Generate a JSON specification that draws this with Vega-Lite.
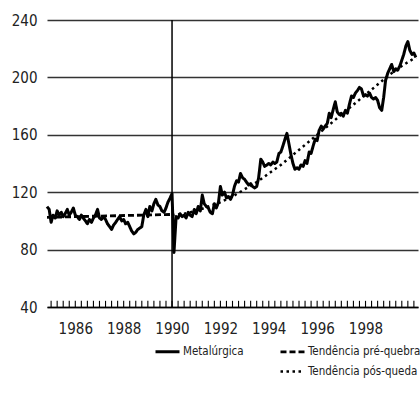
{
  "$schema": "https://vega.github.io/schema/vega-lite/v6.json",
  "width": 371,
  "height": 287,
  "autosize": "none",
  "padding": {"left": 47, "top": 20, "right": 2, "bottom": 94},
  "background": "white",
  "config": {"view": {"stroke": null}},
  "datasets": {
    "series": [
      {"s":"Metalúrgica","t":1984.83,"v":110},{"s":"Metalúrgica","t":1984.92,"v":108},{"s":"Metalúrgica","t":1985.0,"v":99},{"s":"Metalúrgica","t":1985.08,"v":104},{"s":"Metalúrgica","t":1985.17,"v":102},{"s":"Metalúrgica","t":1985.25,"v":107},{"s":"Metalúrgica","t":1985.33,"v":104},{"s":"Metalúrgica","t":1985.42,"v":106},{"s":"Metalúrgica","t":1985.5,"v":103},{"s":"Metalúrgica","t":1985.58,"v":105},{"s":"Metalúrgica","t":1985.67,"v":108},{"s":"Metalúrgica","t":1985.75,"v":104},{"s":"Metalúrgica","t":1985.83,"v":106},{"s":"Metalúrgica","t":1985.92,"v":109},
      {"s":"Metalúrgica","t":1986.0,"v":104},{"s":"Metalúrgica","t":1986.08,"v":103},{"s":"Metalúrgica","t":1986.17,"v":101},{"s":"Metalúrgica","t":1986.25,"v":104},{"s":"Metalúrgica","t":1986.33,"v":102},{"s":"Metalúrgica","t":1986.42,"v":100},{"s":"Metalúrgica","t":1986.5,"v":98},{"s":"Metalúrgica","t":1986.58,"v":101},{"s":"Metalúrgica","t":1986.67,"v":99},{"s":"Metalúrgica","t":1986.75,"v":102},{"s":"Metalúrgica","t":1986.83,"v":104},{"s":"Metalúrgica","t":1986.92,"v":108},
      {"s":"Metalúrgica","t":1987.0,"v":102},{"s":"Metalúrgica","t":1987.08,"v":101},{"s":"Metalúrgica","t":1987.17,"v":103},{"s":"Metalúrgica","t":1987.25,"v":101},{"s":"Metalúrgica","t":1987.33,"v":98},{"s":"Metalúrgica","t":1987.42,"v":96},{"s":"Metalúrgica","t":1987.5,"v":94},{"s":"Metalúrgica","t":1987.58,"v":97},{"s":"Metalúrgica","t":1987.67,"v":99},{"s":"Metalúrgica","t":1987.75,"v":101},{"s":"Metalúrgica","t":1987.83,"v":103},{"s":"Metalúrgica","t":1987.92,"v":100},
      {"s":"Metalúrgica","t":1988.0,"v":101},{"s":"Metalúrgica","t":1988.08,"v":98},{"s":"Metalúrgica","t":1988.17,"v":99},{"s":"Metalúrgica","t":1988.25,"v":96},{"s":"Metalúrgica","t":1988.33,"v":93},{"s":"Metalúrgica","t":1988.42,"v":91},{"s":"Metalúrgica","t":1988.5,"v":92},{"s":"Metalúrgica","t":1988.58,"v":94},{"s":"Metalúrgica","t":1988.67,"v":95},{"s":"Metalúrgica","t":1988.75,"v":96},{"s":"Metalúrgica","t":1988.83,"v":104},{"s":"Metalúrgica","t":1988.92,"v":108},
      {"s":"Metalúrgica","t":1989.0,"v":103},{"s":"Metalúrgica","t":1989.08,"v":110},{"s":"Metalúrgica","t":1989.17,"v":107},{"s":"Metalúrgica","t":1989.25,"v":112},{"s":"Metalúrgica","t":1989.33,"v":115},{"s":"Metalúrgica","t":1989.42,"v":111},{"s":"Metalúrgica","t":1989.5,"v":110},{"s":"Metalúrgica","t":1989.58,"v":107},{"s":"Metalúrgica","t":1989.67,"v":106},{"s":"Metalúrgica","t":1989.75,"v":109},{"s":"Metalúrgica","t":1989.83,"v":113},{"s":"Metalúrgica","t":1989.92,"v":116},
      {"s":"Metalúrgica","t":1990.0,"v":119},{"s":"Metalúrgica","t":1990.08,"v":78},{"s":"Metalúrgica","t":1990.17,"v":103},{"s":"Metalúrgica","t":1990.25,"v":102},{"s":"Metalúrgica","t":1990.33,"v":105},{"s":"Metalúrgica","t":1990.42,"v":103},{"s":"Metalúrgica","t":1990.5,"v":104},{"s":"Metalúrgica","t":1990.58,"v":102},{"s":"Metalúrgica","t":1990.67,"v":106},{"s":"Metalúrgica","t":1990.75,"v":104},{"s":"Metalúrgica","t":1990.83,"v":103},{"s":"Metalúrgica","t":1990.92,"v":108},
      {"s":"Metalúrgica","t":1991.0,"v":105},{"s":"Metalúrgica","t":1991.08,"v":110},{"s":"Metalúrgica","t":1991.17,"v":107},{"s":"Metalúrgica","t":1991.25,"v":118},{"s":"Metalúrgica","t":1991.33,"v":112},{"s":"Metalúrgica","t":1991.42,"v":110},{"s":"Metalúrgica","t":1991.5,"v":109},{"s":"Metalúrgica","t":1991.58,"v":106},{"s":"Metalúrgica","t":1991.67,"v":105},{"s":"Metalúrgica","t":1991.75,"v":112},{"s":"Metalúrgica","t":1991.83,"v":109},{"s":"Metalúrgica","t":1991.92,"v":113},
      {"s":"Metalúrgica","t":1992.0,"v":124},{"s":"Metalúrgica","t":1992.08,"v":118},{"s":"Metalúrgica","t":1992.17,"v":120},{"s":"Metalúrgica","t":1992.25,"v":116},{"s":"Metalúrgica","t":1992.33,"v":117},{"s":"Metalúrgica","t":1992.42,"v":115},{"s":"Metalúrgica","t":1992.5,"v":118},{"s":"Metalúrgica","t":1992.58,"v":124},{"s":"Metalúrgica","t":1992.67,"v":128},{"s":"Metalúrgica","t":1992.75,"v":127},{"s":"Metalúrgica","t":1992.83,"v":133},{"s":"Metalúrgica","t":1992.92,"v":130},
      {"s":"Metalúrgica","t":1993.0,"v":129},{"s":"Metalúrgica","t":1993.08,"v":127},{"s":"Metalúrgica","t":1993.17,"v":125},{"s":"Metalúrgica","t":1993.25,"v":126},{"s":"Metalúrgica","t":1993.33,"v":124},{"s":"Metalúrgica","t":1993.42,"v":123},{"s":"Metalúrgica","t":1993.5,"v":124},{"s":"Metalúrgica","t":1993.58,"v":130},{"s":"Metalúrgica","t":1993.67,"v":143},{"s":"Metalúrgica","t":1993.75,"v":141},{"s":"Metalúrgica","t":1993.83,"v":138},{"s":"Metalúrgica","t":1993.92,"v":139},
      {"s":"Metalúrgica","t":1994.0,"v":140},{"s":"Metalúrgica","t":1994.08,"v":139},{"s":"Metalúrgica","t":1994.17,"v":141},{"s":"Metalúrgica","t":1994.25,"v":140},{"s":"Metalúrgica","t":1994.33,"v":141},{"s":"Metalúrgica","t":1994.42,"v":147},{"s":"Metalúrgica","t":1994.5,"v":148},{"s":"Metalúrgica","t":1994.58,"v":152},{"s":"Metalúrgica","t":1994.67,"v":157},{"s":"Metalúrgica","t":1994.75,"v":161},{"s":"Metalúrgica","t":1994.83,"v":154},{"s":"Metalúrgica","t":1994.92,"v":146},
      {"s":"Metalúrgica","t":1995.0,"v":140},{"s":"Metalúrgica","t":1995.08,"v":136},{"s":"Metalúrgica","t":1995.17,"v":137},{"s":"Metalúrgica","t":1995.25,"v":136},{"s":"Metalúrgica","t":1995.33,"v":139},{"s":"Metalúrgica","t":1995.42,"v":138},{"s":"Metalúrgica","t":1995.5,"v":142},{"s":"Metalúrgica","t":1995.58,"v":140},{"s":"Metalúrgica","t":1995.67,"v":148},{"s":"Metalúrgica","t":1995.75,"v":147},{"s":"Metalúrgica","t":1995.83,"v":152},{"s":"Metalúrgica","t":1995.92,"v":157},
      {"s":"Metalúrgica","t":1996.0,"v":156},{"s":"Metalúrgica","t":1996.08,"v":163},{"s":"Metalúrgica","t":1996.17,"v":166},{"s":"Metalúrgica","t":1996.25,"v":164},{"s":"Metalúrgica","t":1996.33,"v":166},{"s":"Metalúrgica","t":1996.42,"v":168},{"s":"Metalúrgica","t":1996.5,"v":175},{"s":"Metalúrgica","t":1996.58,"v":172},{"s":"Metalúrgica","t":1996.67,"v":178},{"s":"Metalúrgica","t":1996.75,"v":183},{"s":"Metalúrgica","t":1996.83,"v":176},{"s":"Metalúrgica","t":1996.92,"v":174},
      {"s":"Metalúrgica","t":1997.0,"v":175},{"s":"Metalúrgica","t":1997.08,"v":173},{"s":"Metalúrgica","t":1997.17,"v":177},{"s":"Metalúrgica","t":1997.25,"v":175},{"s":"Metalúrgica","t":1997.33,"v":181},{"s":"Metalúrgica","t":1997.42,"v":187},{"s":"Metalúrgica","t":1997.5,"v":186},{"s":"Metalúrgica","t":1997.58,"v":189},{"s":"Metalúrgica","t":1997.67,"v":191},{"s":"Metalúrgica","t":1997.75,"v":193},{"s":"Metalúrgica","t":1997.83,"v":192},{"s":"Metalúrgica","t":1997.92,"v":187},
      {"s":"Metalúrgica","t":1998.0,"v":188},{"s":"Metalúrgica","t":1998.08,"v":187},{"s":"Metalúrgica","t":1998.17,"v":189},{"s":"Metalúrgica","t":1998.25,"v":186},{"s":"Metalúrgica","t":1998.33,"v":185},{"s":"Metalúrgica","t":1998.42,"v":186},{"s":"Metalúrgica","t":1998.5,"v":184},{"s":"Metalúrgica","t":1998.58,"v":179},{"s":"Metalúrgica","t":1998.67,"v":177},{"s":"Metalúrgica","t":1998.75,"v":186},{"s":"Metalúrgica","t":1998.83,"v":198},{"s":"Metalúrgica","t":1998.92,"v":203},
      {"s":"Metalúrgica","t":1999.0,"v":206},{"s":"Metalúrgica","t":1999.08,"v":209},{"s":"Metalúrgica","t":1999.17,"v":204},{"s":"Metalúrgica","t":1999.25,"v":206},{"s":"Metalúrgica","t":1999.33,"v":205},{"s":"Metalúrgica","t":1999.42,"v":208},{"s":"Metalúrgica","t":1999.5,"v":212},{"s":"Metalúrgica","t":1999.58,"v":216},{"s":"Metalúrgica","t":1999.67,"v":222},{"s":"Metalúrgica","t":1999.75,"v":225},{"s":"Metalúrgica","t":1999.83,"v":219},{"s":"Metalúrgica","t":1999.92,"v":216},
      {"s":"Metalúrgica","t":2000.0,"v":217},{"s":"Metalúrgica","t":2000.08,"v":214},
      {"s":"Tendência pré-quebra","t":1984.83,"v":102.5},{"s":"Tendência pré-quebra","t":1990.0,"v":104.5},
      {"s":"Tendência pós-queda","t":1990.0,"v":104},{"s":"Tendência pós-queda","t":1990.5,"v":105},{"s":"Tendência pós-queda","t":1991.0,"v":107},{"s":"Tendência pós-queda","t":1991.5,"v":110},{"s":"Tendência pós-queda","t":1992.0,"v":113},{"s":"Tendência pós-queda","t":1992.5,"v":117},{"s":"Tendência pós-queda","t":1993.0,"v":122},{"s":"Tendência pós-queda","t":1993.5,"v":127},{"s":"Tendência pós-queda","t":1994.0,"v":133},{"s":"Tendência pós-queda","t":1994.5,"v":139},{"s":"Tendência pós-queda","t":1995.0,"v":146},{"s":"Tendência pós-queda","t":1995.5,"v":153},{"s":"Tendência pós-queda","t":1996.0,"v":160},{"s":"Tendência pós-queda","t":1996.5,"v":167},{"s":"Tendência pós-queda","t":1997.0,"v":174},{"s":"Tendência pós-queda","t":1997.5,"v":181},{"s":"Tendência pós-queda","t":1998.0,"v":188},{"s":"Tendência pós-queda","t":1998.5,"v":195},{"s":"Tendência pós-queda","t":1999.0,"v":202},{"s":"Tendência pós-queda","t":1999.5,"v":208},{"s":"Tendência pós-queda","t":2000.08,"v":214}
    ],
    "breaks": [{"t": 1990.0}],
    "ticks": [
      {"t":1985},{"t":1985.25},{"t":1985.5},{"t":1985.75},{"t":1986},{"t":1986.25},{"t":1986.5},{"t":1986.75},{"t":1987},{"t":1987.25},{"t":1987.5},{"t":1987.75},{"t":1988},{"t":1988.25},{"t":1988.5},{"t":1988.75},{"t":1989},{"t":1989.25},{"t":1989.5},{"t":1989.75},{"t":1990},{"t":1990.25},{"t":1990.5},{"t":1990.75},{"t":1991},{"t":1991.25},{"t":1991.5},{"t":1991.75},{"t":1992},{"t":1992.25},{"t":1992.5},{"t":1992.75},{"t":1993},{"t":1993.25},{"t":1993.5},{"t":1993.75},{"t":1994},{"t":1994.25},{"t":1994.5},{"t":1994.75},{"t":1995},{"t":1995.25},{"t":1995.5},{"t":1995.75},{"t":1996},{"t":1996.25},{"t":1996.5},{"t":1996.75},{"t":1997},{"t":1997.25},{"t":1997.5},{"t":1997.75},{"t":1998},{"t":1998.25},{"t":1998.5},{"t":1998.75},{"t":1999},{"t":1999.25},{"t":1999.5},{"t":1999.75},{"t":2000}
    ]
  },
  "layer": [
    {
      "data": {"name": "ticks"},
      "mark": {"type": "rule", "color": "black", "strokeWidth": 1.1},
      "encoding": {
        "x": {"field": "t", "type": "quantitative", "scale": {"domain": [1984.83, 2000.17], "nice": false, "zero": false}},
        "y": {"datum": 40, "type": "quantitative", "scale": {"domain": [40, 240], "nice": false, "zero": false}},
        "y2": {"datum": 44.3}
      }
    },
    {
      "data": {"name": "breaks"},
      "mark": {"type": "rule", "color": "black", "strokeWidth": 1.5},
      "encoding": {
        "x": {"field": "t", "type": "quantitative", "scale": {"domain": [1984.83, 2000.17], "nice": false, "zero": false}}
      }
    },
    {
      "data": {"name": "series"},
      "mark": {"type": "line", "color": "black", "strokeCap": "butt", "strokeJoin": "round"},
      "encoding": {
        "x": {
          "field": "t", "type": "quantitative",
          "scale": {"domain": [1984.83, 2000.17], "nice": false, "zero": false},
          "axis": {
            "title": null,
            "values": [1986, 1988, 1990, 1992, 1994, 1996, 1998],
            "format": "d",
            "labelOverlap": false,
            "labelBound": false,
            "labelFlush": false,
            "grid": false,
            "domainColor": "black",
            "domainWidth": 1.3,
            "ticks": false,
            "tickSize": 0,
            "labelPadding": 14,
            "labelFont": "DejaVu Sans Condensed, Roboto",
            "labelFontSize": 15,
            "labelColor": "#222"
          }
        },
        "y": {
          "field": "v", "type": "quantitative",
          "scale": {"domain": [40, 240], "nice": false, "zero": false},
          "axis": {
            "title": null,
            "values": [40, 80, 120, 160, 200, 240],
            "domain": false,
            "ticks": false,
            "grid": true,
            "gridColor": "#333",
            "gridWidth": 1.3,
            "gridOpacity": 1,
            "labelPadding": 10,
            "labelFont": "DejaVu Sans Condensed, Roboto",
            "labelFontSize": 15,
            "labelColor": "#222"
          }
        },
        "strokeDash": {
          "field": "s", "type": "nominal",
          "scale": {"domain": ["Metalúrgica", "Tendência pré-quebra", " ", "Tendência pós-queda"], "range": [[1, 0], [6, 3], [1, 0], [2.5, 3.5]]},
          "legend": {
            "title": null,
            "orient": "none",
            "legendX": 107,
            "legendY": 318,
            "columns": 2,
            "direction": "horizontal",
            "columnPadding": 30,
            "rowPadding": 0,
            "symbolType": "stroke",
            "symbolSize": 576,
            "symbolStrokeColor": "black",
            "labelFont": "DejaVu Sans Condensed, Roboto",
            "labelFontSize": 11.5,
            "labelColor": "#222",
            "labelOffset": 2,
            "labelLimit": 200,
            "padding": 0,
            "encode": {"symbols": {"update": {"opacity": {"signal": "datum.value === ' ' ? 0 : 1"}}}}
          }
        },
        "strokeWidth": {
          "field": "s", "type": "nominal",
          "scale": {"domain": ["Metalúrgica", "Tendência pré-quebra", " ", "Tendência pós-queda"], "range": [3, 2.5, 0, 2.5]},
          "legend": null
        }
      }
    }
  ]
}
